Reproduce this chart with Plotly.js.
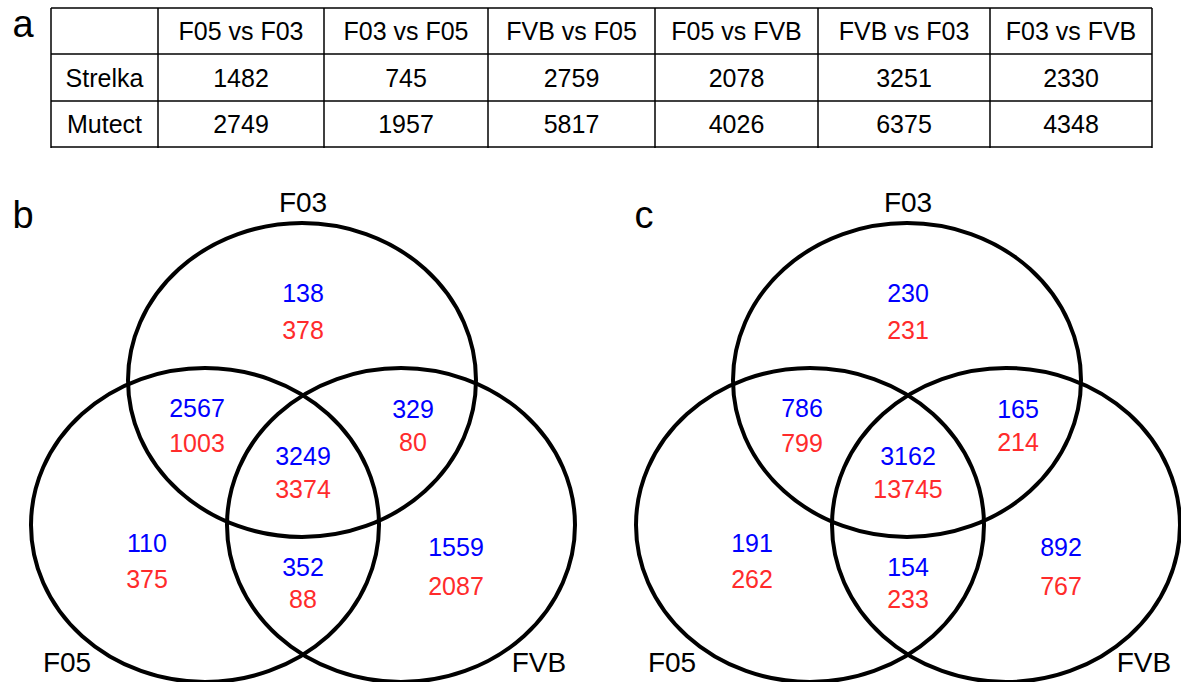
<!DOCTYPE html>
<html>
<head>
<meta charset="utf-8">
<script src="https://cdn.plot.ly/plotly-3.0.1.min.js"></script>
<style>html,body{margin:0;padding:0;background:#fff;}#chart{width:1181px;height:682px;}</style>
</head>
<body>
<div id="chart"></div>
<script>
// ---------- DATA ----------
const comparisons = ['F05 vs F03', 'F03 vs F05', 'FVB vs F05', 'F05 vs FVB', 'FVB vs F03', 'F03 vs FVB'];
const callers = ['Strelka', 'Mutect'];
const strelkaCounts = [1482, 745, 2759, 2078, 3251, 2330];
const mutectCounts = [2749, 1957, 5817, 4026, 6375, 4348];

const setNames = ['F03', 'F05', 'FVB'];
const regionNames = ['F03 only', 'F03∩F05', 'F03∩FVB', 'F03∩F05∩FVB', 'F05 only', 'F05∩FVB', 'FVB only'];
const panelBBlue = [138, 2567, 329, 3249, 110, 352, 1559];
const panelBRed = [378, 1003, 80, 3374, 375, 88, 2087];
const panelCBlue = [230, 786, 165, 3162, 191, 154, 892];
const panelCRed = [231, 799, 214, 13745, 262, 233, 767];

// ---------- LAYOUT GEOMETRY ----------
const W = 1181, H = 682;
const FONT = 'Liberation Sans, Arial, sans-serif';
const BLUE = '#0000ff', RED = '#ff2b2b';
const colEdges = [51, 158, 324, 488, 655, 818, 990, 1152];
const rowEdges = [8, 54, 101, 147];
const rowTextY = [34, 80.5, 127];

const rx = 174, ry = 157;
const panels = [
  {label: 'b', labelX: 23, cx: 303, blue: panelBBlue, red: panelBRed},
  {label: 'c', labelX: 644, cx: 908, blue: panelCBlue, red: panelCRed}
];
// circle centres relative to panel centre
const circleOffsets = {F03: [-1, 380], F05: [-98, 525], FVB: [98, 525]};
// region label offsets (dx, blueY, redY)
const regionOffsets = [
  [0, 296, 333],
  [-106, 411, 446],
  [110, 412, 445],
  [0, 459, 492],
  [-156, 546, 582],
  [0, 570, 602],
  [153, 550, 589]
];
const setLabelPos = {F03: [0, 205], F05: [-236, 665], FVB: [236, 665]};

const traces = [];
const shapes = [];

// ---------- TABLE ----------
const colCenters = colEdges.slice(0, -1).map((e, i) => (e + colEdges[i + 1]) / 2);
const lineStyle = {color: '#000', width: 1.5};
rowEdges.forEach(y => shapes.push({type: 'line', xref: 'x', yref: 'y', x0: colEdges[0], x1: colEdges[colEdges.length - 1], y0: y, y1: y, line: lineStyle}));
colEdges.forEach(x => shapes.push({type: 'line', xref: 'x', yref: 'y', x0: x, x1: x, y0: rowEdges[0], y1: rowEdges[rowEdges.length - 1] + 1, line: lineStyle}));

const tfont = {family: FONT, size: 25, color: '#000'};
traces.push({type: 'scatter', mode: 'text', x: colCenters.slice(1), y: comparisons.map(() => rowTextY[0]), text: comparisons, textfont: tfont, hoverinfo: 'none', showlegend: false});
traces.push({type: 'scatter', mode: 'text', x: callers.map(() => colCenters[0]), y: [rowTextY[1], rowTextY[2]], text: callers, textfont: tfont, hoverinfo: 'none', showlegend: false});
traces.push({type: 'scatter', mode: 'text', x: colCenters.slice(1), y: strelkaCounts.map(() => rowTextY[1]), text: strelkaCounts.map(String), textfont: tfont, hoverinfo: 'none', showlegend: false});
traces.push({type: 'scatter', mode: 'text', x: colCenters.slice(1), y: mutectCounts.map(() => rowTextY[2]), text: mutectCounts.map(String), textfont: tfont, hoverinfo: 'none', showlegend: false});

// panel letters
const letterFont = {family: FONT, size: 38, color: '#000'};
traces.push({type: 'scatter', mode: 'text', x: [23, panels[0].labelX, panels[1].labelX], y: [27, 218, 218], text: ['a', panels[0].label, panels[1].label], textfont: letterFont, hoverinfo: 'none', showlegend: false, cliponaxis: false});

// ---------- VENN PANELS ----------
panels.forEach(p => {
  setNames.forEach(s => {
    const [dx, cy] = circleOffsets[s];
    const cx = p.cx + dx;
    shapes.push({type: 'circle', xref: 'x', yref: 'y', x0: cx - rx, x1: cx + rx, y0: cy - ry, y1: cy + ry, line: {color: '#000', width: 4}, fillcolor: 'rgba(0,0,0,0)'});
  });
  traces.push({type: 'scatter', mode: 'text',
    x: setNames.map(s => p.cx + setLabelPos[s][0]), y: setNames.map(s => setLabelPos[s][1]),
    text: setNames, textfont: {family: FONT, size: 28, color: '#000'}, hoverinfo: 'none', showlegend: false});
  traces.push({type: 'scatter', mode: 'text', name: 'Strelka',
    x: regionOffsets.map(o => p.cx + o[0]), y: regionOffsets.map(o => o[1]),
    text: p.blue.map(String), customdata: regionNames,
    textfont: {family: FONT, size: 25, color: BLUE}, hoverinfo: 'none', showlegend: false});
  traces.push({type: 'scatter', mode: 'text', name: 'Mutect',
    x: regionOffsets.map(o => p.cx + o[0]), y: regionOffsets.map(o => o[2]),
    text: p.red.map(String), customdata: regionNames,
    textfont: {family: FONT, size: 25, color: RED}, hoverinfo: 'none', showlegend: false});
});

const layout = {
  width: W, height: H,
  margin: {l: 0, r: 0, t: 0, b: 0, pad: 0},
  paper_bgcolor: '#fff', plot_bgcolor: '#fff',
  xaxis: {range: [0, W], visible: false, fixedrange: true},
  yaxis: {range: [H, 0], visible: false, fixedrange: true},
  shapes: shapes,
  showlegend: false
};

Plotly.newPlot('chart', traces, layout, {displayModeBar: false, staticPlot: true});
</script>
</body>
</html>
